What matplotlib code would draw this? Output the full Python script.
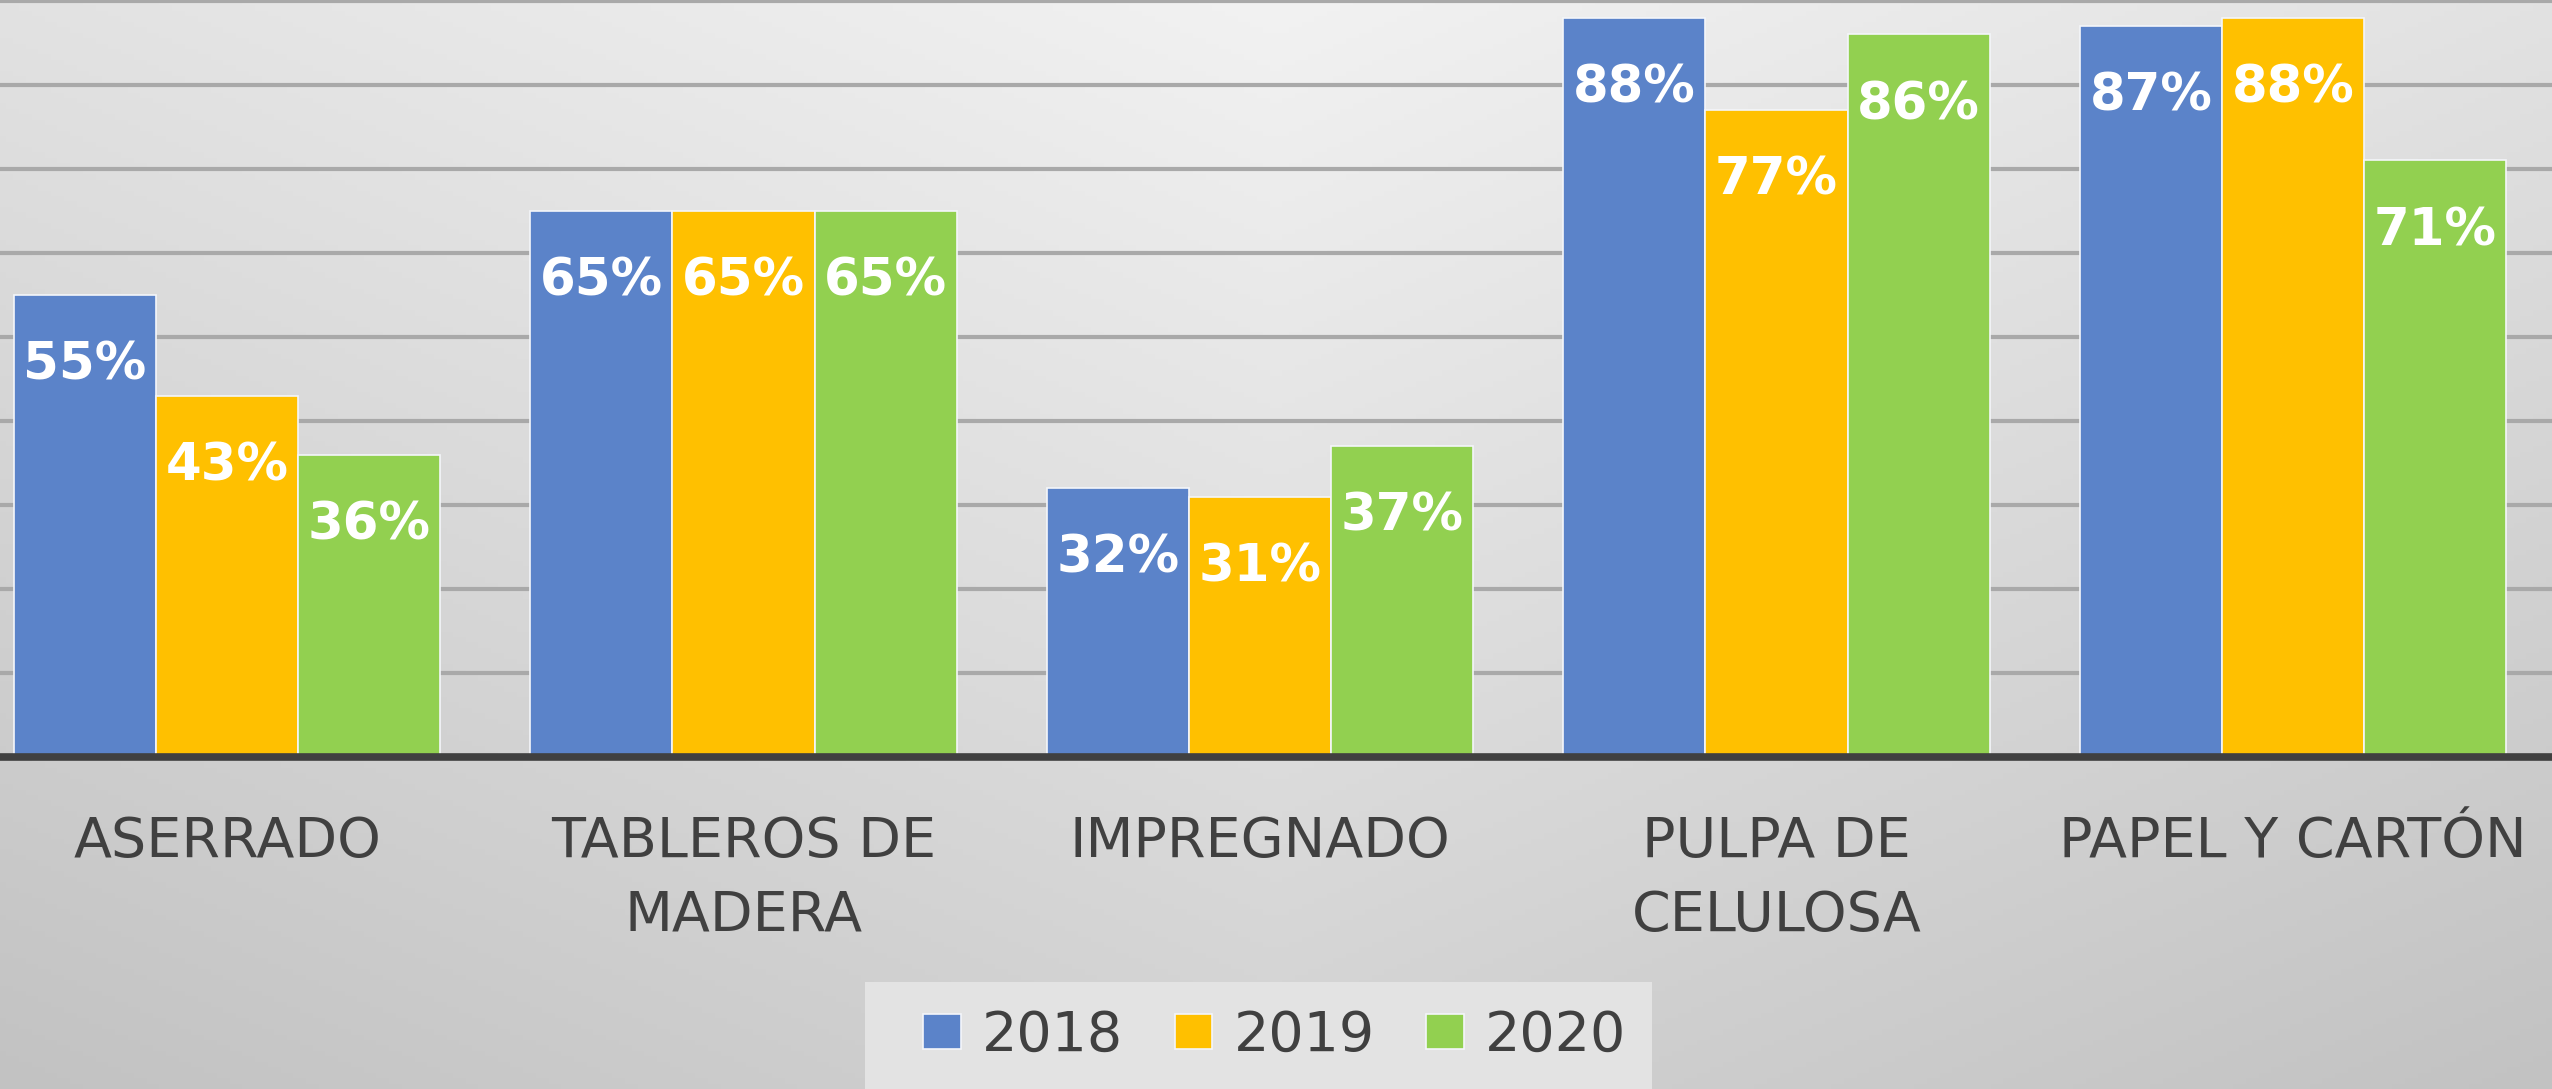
import numpy as np
import matplotlib
matplotlib.use("Agg")
import matplotlib.pyplot as plt
from matplotlib.patches import Rectangle

categories = ["ASERRADO", "TABLEROS DE\nMADERA", "IMPREGNADO", "PULPA DE\nCELULOSA", "PAPEL Y CARTÓN"]
years = ["2018", "2019", "2020"]
v2018 = [0.55, 0.65, 0.32, 0.88, 0.87]
v2019 = [0.43, 0.65, 0.31, 0.77, 0.88]
v2020 = [0.36, 0.65, 0.37, 0.86, 0.71]
series = [v2018, v2019, v2020]
colors = ["#5B83C9", "#FFC000", "#92D050"]

W, H = 2552, 1089
fig = plt.figure(figsize=(W / 100, H / 100), dpi=100)

# background gradient
bg = fig.add_axes([0, 0, 1, 1], zorder=-10)
yy, xx = np.mgrid[0:1:200j, 0:1:400j]
gray = 242 - 32 * yy - 16 * np.abs(xx - 0.5) * 2
gray = gray / 255.0
bg.imshow(np.dstack([gray, gray, gray]), aspect="auto", extent=[0, 1, 0, 1], origin="upper")
bg.axis("off")

# legend box
fig.patches.append(Rectangle((865 / W, 0), (1652 - 865) / W, (H - 982) / H,
                             transform=fig.transFigure, facecolor="#E3E3E3",
                             edgecolor="none", zorder=-5))

ax = fig.add_axes([0, (H - 757) / H, 1, 757 / H])
ax.patch.set_alpha(0)

x = np.arange(len(categories))
bw = 0.275
containers = []
for i, (vals, c, yr) in enumerate(zip(series, colors, years)):
    bars = ax.bar(x + (i - 1) * bw, vals, width=bw, color=c, edgecolor="#F4F6FA",
                  linewidth=1.2, label=yr, zorder=2)
    containers.append(bars)
    for xi, v in zip(x + (i - 1) * bw, vals):
        ax.annotate(f"{int(round(v * 100))}%", (xi, v), xytext=(0, -61),
                    textcoords="offset points", ha="center", va="baseline",
                    fontsize=37, fontweight="bold", color="white", zorder=3)

ax.set_xlim(-227 / 516.5, (W - 227) / 516.5)
ax.set_ylim(0, 0.901)
ax.set_yticks(np.arange(0.1, 0.95, 0.1))
ax.yaxis.grid(True, color="#A9A9A9", linewidth=3)
ax.set_axisbelow(True)
ax.tick_params(axis="y", left=False, labelleft=False)
ax.set_xticks(x)
ax.set_xticklabels(categories, fontsize=40, color="#404040", linespacing=1.46)
ax.tick_params(axis="x", length=0, pad=42)
for s in ["top", "left", "right"]:
    ax.spines[s].set_visible(False)
ax.spines["bottom"].set_color("#404040")
ax.spines["bottom"].set_linewidth(5.5)
ax.spines["bottom"].set_zorder(4)

fig.legend(handles=containers, labels=years, ncol=3, loc="center left",
           bbox_to_anchor=(923 / W, (H - 1036) / H), frameon=False, fontsize=40,
           labelcolor="#404040", handlelength=0.68, handleheight=0.6,
           handletextpad=0.38, columnspacing=0.93, borderpad=0, borderaxespad=0)

fig.savefig("out.png", dpi=100)
